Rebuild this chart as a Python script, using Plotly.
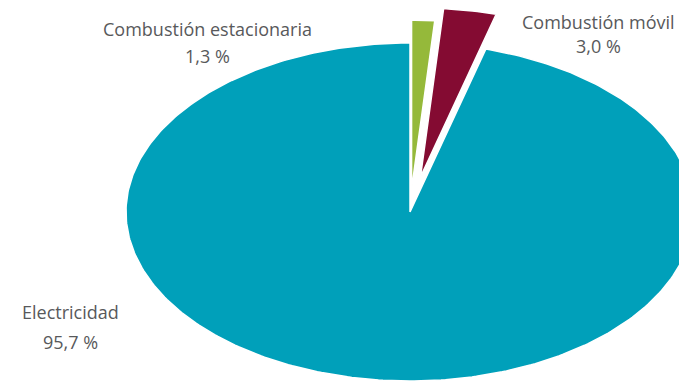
import numpy as np
import plotly.graph_objects as go

# Emission sources and their share of the total (%)
categories = ["Combustión estacionaria", "Combustión móvil", "Electricidad"]
shares = [1.3, 3.0, 95.7]
value_labels = ["1,3 %", "3,0 %", "95,7 %"]

colors = ["#95b93a", "#840b32", "#00a0ba"]
pulls = [0.135, 0.21, 0.0]

W, H = 679, 384
CX, CY = 410, 212      # pie centre in pixels
RX, RY = 284, 169      # horizontal / vertical radius in pixels

fig = go.Figure()

total = sum(shares)
start = 0.0
for name, val, col, pull in zip(categories, shares, colors, pulls):
    frac = val / total
    a0, a1 = start * 2 * np.pi, (start + frac) * 2 * np.pi
    mid = (a0 + a1) / 2
    ox, oy = pull * np.sin(mid), pull * np.cos(mid)
    t = np.linspace(a0, a1, max(8, int(400 * frac)))
    xs = np.concatenate([[0], np.sin(t), [0]]) + ox
    ys = np.concatenate([[0], np.cos(t), [0]]) + oy
    fig.add_trace(go.Scatter(
        x=xs, y=ys, mode="lines", fill="toself", fillcolor=col,
        line=dict(color="white", width=1.5), name=name, hoverinfo="name",
        showlegend=False,
    ))
    start += frac

# stretch the unit circle into the ellipse via the axis ranges
fig.update_xaxes(range=[-CX / RX, (W - CX) / RX], visible=False, fixedrange=True)
fig.update_yaxes(range=[-(H - CY) / RY, CY / RY], visible=False, fixedrange=True)

label_pos = [(207, 29.5, 55.5), (598, 22, 45.5), (70, 312, 341.5)]
font = dict(family="Open Sans", size=18, color="#58595b")
for name, vl, (px, py1, py2) in zip(categories, value_labels, label_pos):
    for txt, py in ((name, py1), (vl, py2)):
        fig.add_annotation(
            text=txt, x=px / W, y=1 - py / H, xref="paper", yref="paper",
            xanchor="center", yanchor="middle", showarrow=False, font=font,
        )

fig.update_layout(
    width=W, height=H, margin=dict(l=0, r=0, t=0, b=0),
    paper_bgcolor="white", plot_bgcolor="white",
)

fig.write_html("out.html")
